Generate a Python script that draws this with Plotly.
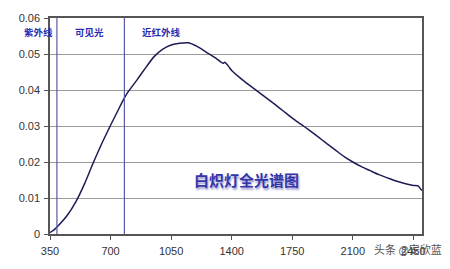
import plotly.graph_objects as go

wavelength = [350, 375, 400, 450, 500, 550, 600, 650, 700, 750, 780, 800, 850, 900, 950,
              1000, 1050, 1100, 1150, 1200, 1250, 1300, 1340, 1350, 1360, 1380, 1400, 1450,
              1500, 1550, 1600, 1650, 1700, 1750, 1800, 1850, 1900, 1950, 2000, 2050, 2100,
              2150, 2200, 2250, 2300, 2350, 2400, 2450, 2480, 2490, 2500]
intensity = [0.0004, 0.0012, 0.0024, 0.0052, 0.0090, 0.0140, 0.0198, 0.0252, 0.0302, 0.0350,
             0.0378, 0.0394, 0.0426, 0.0460, 0.0492, 0.0513, 0.0525, 0.0530, 0.0531, 0.0521,
             0.0506, 0.0491, 0.0477, 0.0474, 0.0477, 0.0467, 0.0454, 0.0433, 0.0414, 0.0396,
             0.0378, 0.0360, 0.0341, 0.0322, 0.0305, 0.0288, 0.0270, 0.0251, 0.0233, 0.0215,
             0.0200, 0.0187, 0.0176, 0.0165, 0.0156, 0.0147, 0.0140, 0.0135, 0.0133, 0.0126,
             0.0121]
boundaries = [390, 780]
region_labels = ["紫外线", "可见光", "近红外线"]
x_ticks = [350, 700, 1050, 1400, 1750, 2100, 2450]
y_ticks = [0, 0.01, 0.02, 0.03, 0.04, 0.05, 0.06]
y_tick_text = ["0", "0.01", "0.02", "0.03", "0.04", "0.05", "0.06"]
title_text = "白炽灯全光谱图"
watermark = "头条 @安欣蓝"

# plot area in pixels (for placing free text)
L, R, T, B = 50, 422, 13, 237
def px(xp):
    return (xp - L) / (R - L)
def py(yp):
    return (B - yp) / (B - T)

region_label_px = [38, 89, 161]

fig = go.Figure()
fig.add_trace(go.Scatter(x=wavelength, y=intensity, mode="lines",
                         line=dict(color="#1c1c55", width=1.5, shape="spline", smoothing=0.5),
                         hoverinfo="skip", showlegend=False))

for b in boundaries:
    fig.add_shape(type="line", x0=b, x1=b, y0=0, y1=0.06, xref="x", yref="y",
                  line=dict(color="#5a5aa8", width=1.2), layer="above")

cjk = "Noto Sans CJK SC"
for lab, lp in zip(region_labels, region_label_px):
    fig.add_annotation(x=px(lp), y=py(28), xref="paper", yref="paper",
                       text="<b>%s</b>" % lab, showarrow=False,
                       xanchor="center", yanchor="middle",
                       font=dict(family=cjk, size=9.5, color="#2b2bb0"))

fig.add_annotation(x=px(246), y=py(180), xref="paper", yref="paper",
                   text="<b>%s</b>" % title_text, showarrow=False,
                   xanchor="center", yanchor="middle",
                   font=dict(family=cjk, size=15, color="#3535a8",
                             shadow="1px 2px 2px #9a9ad0"))

fig.add_annotation(x=px(408), y=py(253), xref="paper", yref="paper", text=watermark,
                   showarrow=False, xanchor="center", yanchor="middle",
                   font=dict(family=cjk, size=11, color="#555555"))

fig.update_layout(
    width=450, height=269,
    margin=dict(l=L, r=450 - R, t=T, b=269 - B),
    paper_bgcolor="white", plot_bgcolor="white",
    font=dict(family="Liberation Sans, Arial", size=11, color="#333333"),
    xaxis=dict(range=[350, 2500], tickvals=x_ticks, ticks="outside", ticklen=4,
               tickcolor="#555555", showgrid=False, showline=True, linecolor="#555555",
               linewidth=1.5, mirror=True, zeroline=False, ticklabelstandoff=2,
               tickfont=dict(size=11, color="#333333")),
    yaxis=dict(range=[0, 0.06], tickvals=y_ticks, ticktext=y_tick_text, ticks="outside",
               ticklen=4, tickcolor="#555555", showgrid=True, gridcolor="#9a9a9a",
               gridwidth=1, showline=True, linecolor="#555555", linewidth=1.5,
               mirror=True, zeroline=False, ticklabelstandoff=2,
               tickfont=dict(size=11, color="#333333")),
)

fig.write_html("out.html")
